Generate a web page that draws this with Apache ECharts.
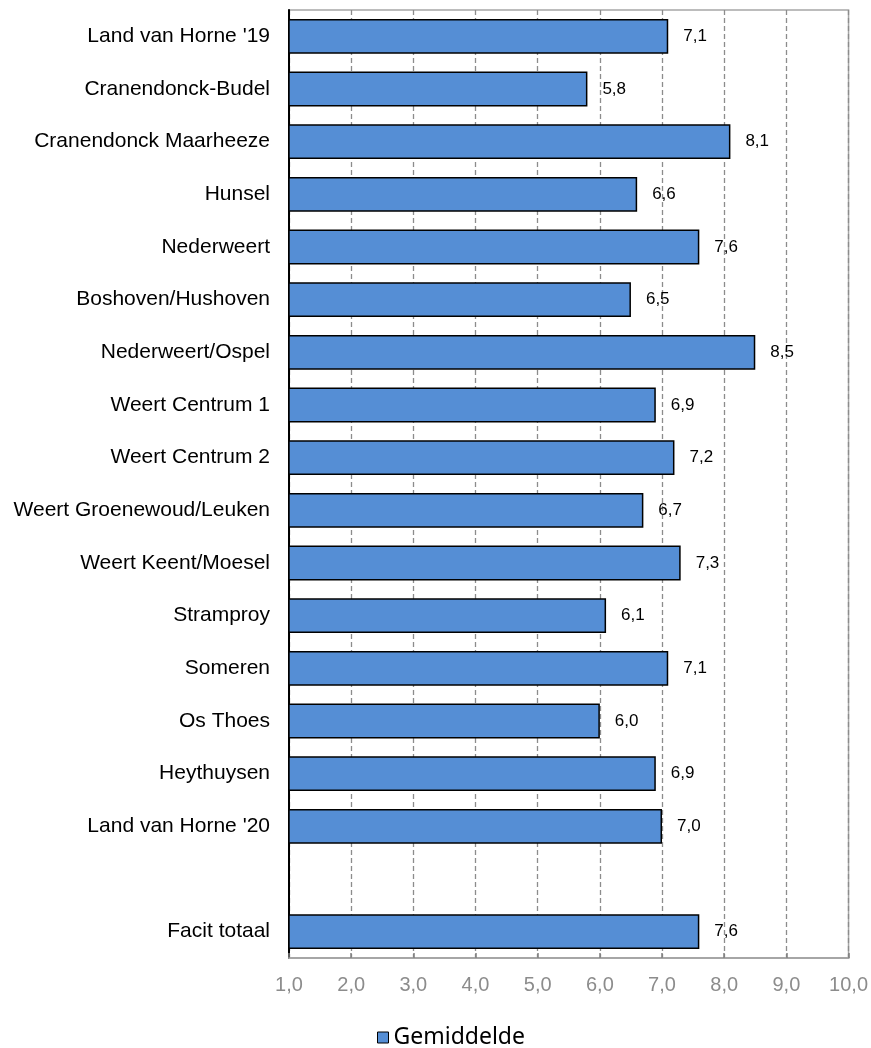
<!DOCTYPE html>
<html>
<head>
<meta charset="utf-8">
<script src="https://cdn.jsdelivr.net/npm/echarts@6/dist/echarts.min.js"></script>
<style>
  html, body { margin: 0; padding: 0; background: #fff; }
  #chart { width: 871px; height: 1048px; }
</style>
</head>
<body>
<div id="chart"></div>
<script>
// Average score per location (blank row separates the overall total)
const categories = [
  "Land van Horne '19",
  "Cranendonck-Budel",
  "Cranendonck Maarheeze",
  "Hunsel",
  "Nederweert",
  "Boshoven/Hushoven",
  "Nederweert/Ospel",
  "Weert Centrum 1",
  "Weert Centrum 2",
  "Weert Groenewoud/Leuken",
  "Weert Keent/Moesel",
  "Stramproy",
  "Someren",
  "Os Thoes",
  "Heythuysen",
  "Land van Horne '20",
  "",
  "Facit totaal"
];
const gemiddelde = [7.1, 5.8, 8.1, 6.6, 7.6, 6.5, 8.5, 6.9, 7.2, 6.7, 7.3, 6.1, 7.1, 6.0, 6.9, 7.0, null, 7.6];
const seriesName = "Gemiddelde";
const axisMin = 1;
const axisMax = 10;
const axisStep = 1;

const fmt = v => v.toFixed(1).replace('.', ',');

const chart = echarts.init(document.getElementById('chart'), null, { renderer: 'canvas' });
chart.setOption({
  animation: false,
  backgroundColor: '#ffffff',
  grid: {
    left: 289, right: 21, top: 10, bottom: 90,
    show: true, borderColor: '#a6a6a6', borderWidth: 1.5
  },
  legend: {
    data: [seriesName],
    left: 372, top: 1021,
    icon: 'rect', itemWidth: 11, itemHeight: 11, itemGap: 6,
    itemStyle: { borderColor: '#000', borderWidth: 1 },
    textStyle: { fontFamily: 'Noto Sans', fontSize: 23, color: '#000' }
  },
  xAxis: {
    type: 'value',
    min: axisMin, max: axisMax, interval: axisStep,
    axisLine: { show: true, lineStyle: { color: '#a6a6a6', width: 2 } },
    axisTick: { show: true, inside: true, length: 5, lineStyle: { color: '#808080', width: 1.5 } },
    axisLabel: {
      formatter: fmt, color: '#8c8c8c', fontSize: 20,
      fontFamily: 'Liberation Sans', margin: 17
    },
    splitLine: { show: true, lineStyle: { color: '#8c8c8c', width: 1.3, type: [5, 3] } }
  },
  yAxis: {
    type: 'category',
    data: categories,
    inverse: true,
    axisLine: { show: true, lineStyle: { color: '#000', width: 2 } },
    axisTick: { show: false },
    axisLabel: { color: '#000', fontSize: 21, fontFamily: 'Liberation Sans', margin: 19 },
    splitLine: { show: false }
  },
  series: [{
    name: seriesName,
    type: 'bar',
    data: gemiddelde,
    barCategoryGap: '34%',
    itemStyle: { color: '#558ed5', borderColor: '#000', borderWidth: 1.5 },
    label: {
      show: true, position: 'right', distance: 15,
      formatter: p => (p.value == null ? '' : fmt(p.value)),
      color: '#000', fontSize: 17, fontFamily: 'Liberation Sans'
    }
  }]
});
</script>
</body>
</html>
